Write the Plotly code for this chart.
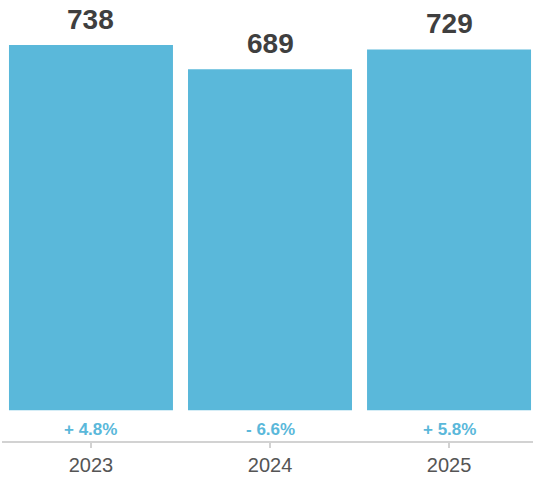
import plotly.graph_objects as go

years = ["2023", "2024", "2025"]
values = [738, 689, 729]
changes = ["+ 4.8%", "- 6.6%", "+ 5.8%"]

BAR = "#5ab8da"
FONT = "Helvetica Neue, Helvetica, Arial, Liberation Sans, sans-serif"

fig = go.Figure(
    go.Bar(
        x=list(range(len(years))),
        y=values,
        marker=dict(color=BAR, line=dict(width=0)),
        hoverinfo="skip",
    )
)

annotations = []
for i, (v, c) in enumerate(zip(values, changes)):
    annotations.append(dict(
        x=i, y=v, xref="x", yref="y", text=f"<b>{v}</b>", showarrow=False,
        yanchor="bottom", yshift=8,
        font=dict(family=FONT, size=28, color="#3f3f3f"),
    ))
    annotations.append(dict(
        x=i, y=0, xref="x", yref="y", text=f"<b>{c}</b>", showarrow=False,
        yanchor="middle", yshift=-19,
        font=dict(family=FONT, size=17, color=BAR),
    ))

fig.update_layout(
    width=533, height=477,
    margin=dict(l=2, r=0, t=0, b=36),
    paper_bgcolor="white", plot_bgcolor="white",
    bargap=0.084,
    showlegend=False,
    annotations=annotations,
    xaxis=dict(
        range=[-0.497, 2.469],
        tickmode="array", tickvals=list(range(len(years))), ticktext=years,
        showline=True, linecolor="#d2d2d2", linewidth=2,
        ticks="outside", ticklen=5, tickcolor="#d2d2d2", tickwidth=2,
        showgrid=False, zeroline=False,
        tickfont=dict(family=FONT, size=20, color="#555555"),
        fixedrange=True,
    ),
    yaxis=dict(
        range=[-62, 829],
        visible=False, showgrid=False, zeroline=False, fixedrange=True,
    ),
)

fig.write_html("out.html")
